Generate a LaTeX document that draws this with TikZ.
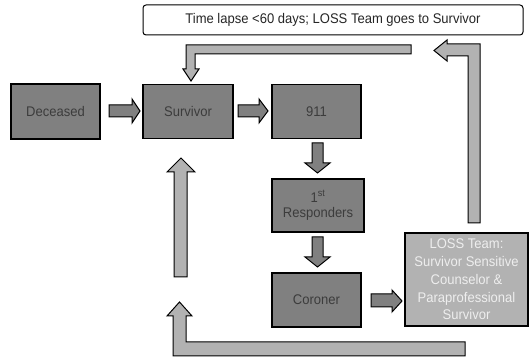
\documentclass[tikz,border=0pt]{standalone}
\usepackage{fontspec}
\setmainfont{Liberation Sans}[FakeStretch=0.93]
\definecolor{darkbox}{HTML}{808080}
\definecolor{lightbox}{HTML}{B2B2B2}
\definecolor{darktext}{HTML}{3C3C3C}
\definecolor{lighttext}{HTML}{EEEEEE}
\begin{document}
\begin{tikzpicture}[x=1pt,y=-1pt,
  darkstep/.style={draw=black,line width=1.2pt,fill=darkbox,text=darktext,inner sep=0pt,align=center,font=\fontsize{14}{15.5}\selectfont},
  lossbox/.style={draw=black,line width=1.2pt,fill=lightbox,text=lighttext,inner sep=0pt,align=center,font=\fontsize{14}{17.7}\selectfont},
  notebox/.style={draw=black,line width=1pt,fill=white,rounded corners=3pt,inner sep=0pt,font=\fontsize{14}{15}\selectfont,text=black!85},
  darkarrow/.style={draw=black,line width=1pt,fill=darkbox,line join=miter},
  lightarrow/.style={draw=black,line width=1pt,fill=lightbox,line join=miter}]
\useasboundingbox (0,0) rectangle (531,358);

% boxes
\node[notebox,minimum width=380pt,minimum height=30pt] (note) at (333,20) {Time lapse <60 days; LOSS Team goes to Survivor};
\node[darkstep,minimum width=89pt,minimum height=55pt] (deceased) at (55.5,111.5) {Deceased};
\node[darkstep,minimum width=90pt,minimum height=54pt] (survivor) at (188,111.5) {Survivor};
\node[darkstep,minimum width=89pt,minimum height=54pt] (n911) at (316.5,111.5) {911};
\node[darkstep,minimum width=92pt,minimum height=53pt] (resp) at (318,205.5) {1\textsuperscript{st}\\Responders};
\node[darkstep,minimum width=89pt,minimum height=54pt] (coroner) at (316.5,300) {Coroner};
\node[lossbox,minimum width=123pt,minimum height=93pt] (loss) at (466.5,279.5) {LOSS Team:\\Survivor Sensitive\\Counselor \&\\Paraprofessional\\Survivor};

% small flow arrows
\draw[darkarrow] (109,105) -- (132,105) -- (132,99) -- (140,111) -- (132,123) -- (132,117) -- (109,117) -- cycle;
\draw[darkarrow] (238,105) -- (259,105) -- (259,99) -- (268,111) -- (259,123) -- (259,117) -- (238,117) -- cycle;
\draw[darkarrow] (312,143) -- (312,163) -- (305,163) -- (317.5,173) -- (330,163) -- (323,163) -- (323,143) -- cycle;
\draw[darkarrow] (312,237) -- (312,257) -- (305,257) -- (317.5,267) -- (330,257) -- (323,257) -- (323,237) -- cycle;
\draw[darkarrow] (371,294) -- (392,294) -- (392,290) -- (402,301) -- (392,312) -- (392,307) -- (371,307) -- cycle;

% up arrow to survivor
\draw[lightarrow] (174,277) -- (174,172) -- (167,172) -- (181,158) -- (195,172) -- (187,172) -- (187,277) -- cycle;

% bottom L arrow
\draw[lightarrow] (465,342) -- (186,342) -- (186,316) -- (192,316) -- (179.5,302) -- (167,316) -- (173,316) -- (173,356) -- (465,356) -- cycle;

% top-left L arrow
\draw[lightarrow] (411,45) -- (186,45) -- (186,69) -- (183,69) -- (191,81) -- (199,69) -- (195,69) -- (195,54) -- (411,54) -- cycle;

% right L arrow
\draw[lightarrow] (468,223) -- (468,56) -- (447,56) -- (447,61) -- (434,50.5) -- (447,40) -- (447,44) -- (480,44) -- (480,223) -- cycle;
\end{tikzpicture}
\end{document}
